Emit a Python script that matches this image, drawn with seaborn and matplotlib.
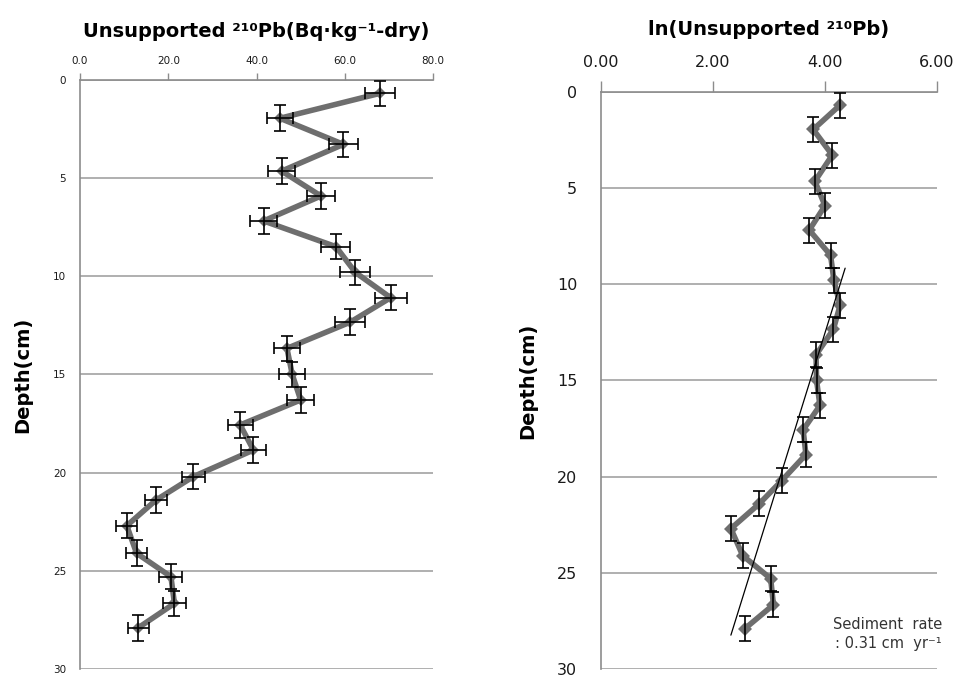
import numpy as np
import pandas as pd
import matplotlib
matplotlib.use("Agg")
import matplotlib.pyplot as plt
import seaborn as sns

# ---------------- data ----------------
depth = [0.68, 1.95, 3.28, 4.64, 5.91, 7.18, 8.49, 9.80, 11.09, 12.34, 13.67,
         15.00, 16.30, 17.57, 18.85, 20.20, 21.40, 22.70, 24.10, 25.30, 26.66, 27.90]
pb_unsupported = [68.0, 45.3, 59.7, 45.7, 54.6, 41.6, 58.0, 62.4, 70.4, 61.2, 46.9,
                  48.1, 50.0, 36.3, 39.3, 25.7, 17.2, 10.6, 12.8, 20.6, 21.4, 13.2]
pb_error = [3.5, 3.0, 3.3, 3.0, 3.2, 3.0, 3.3, 3.4, 3.6, 3.3, 3.0,
            3.0, 3.1, 2.8, 2.9, 2.6, 2.5, 2.4, 2.4, 2.6, 2.6, 2.4]
ln_pb = [4.27, 3.79, 4.13, 3.82, 4.00, 3.72, 4.10, 4.16, 4.27, 4.15, 3.84,
         3.85, 3.91, 3.61, 3.66, 3.23, 2.83, 2.32, 2.53, 3.03, 3.08, 2.57]
depth_halfwidth = 0.65
trend_ln = [4.36, 2.32]
trend_depth = [9.16, 28.24]

x_ticks_left = [0, 20, 40, 60, 80]
x_ticklabels_left = ["0.0", "20.0", "40.0", "60.0", "80.0"]
x_ticks_right = [0, 2, 4, 6]
x_ticklabels_right = ["0.00", "2.00", "4.00", "6.00"]
y_ticks = [0, 5, 10, 15, 20, 25, 30]

df = pd.DataFrame({"depth": depth, "pb": pb_unsupported, "ln": ln_pb})

# ---------------- style ----------------
sns.set_style("white")
plt.rcParams["font.family"] = ["DejaVu Sans"]

line_c = "#6e6e6e"
grid_c = "#9a9a9a"
spine_c = "#8c8c8c"
text_c = "#1a1a1a"

fig = plt.figure(figsize=(9.62, 6.79), dpi=100)
axL = fig.add_axes([0.0832, 0.01473, 0.3669, 0.8675])
axR = fig.add_axes([0.6247, 0.01473, 0.3493, 0.8498])


def style_axis(ax, xticks, xlabels, xmax, tick_fs, tick_len, xpad, ypad):
    ax.set_xlim(0, xmax)
    ax.set_ylim(30, 0)
    ax.xaxis.tick_top()
    ax.set_xticks(xticks)
    ax.set_xticklabels(xlabels)
    ax.set_yticks(y_ticks)
    ax.set_yticklabels([str(v) for v in y_ticks])
    ax.tick_params(axis="both", direction="out", length=tick_len, width=1,
                   color=spine_c, labelsize=tick_fs, labelcolor=text_c)
    ax.tick_params(axis="x", pad=xpad)
    ax.tick_params(axis="y", pad=ypad)
    for s in ["right", "bottom"]:
        ax.spines[s].set_visible(False)
    for s in ["left", "top"]:
        ax.spines[s].set_color(spine_c)
        ax.spines[s].set_linewidth(1.2)
    ax.yaxis.grid(True, color=grid_c, linewidth=1.1)
    ax.xaxis.grid(False)
    ax.set_xlabel("")
    ax.set_ylabel("Depth(cm)", fontsize=14, fontweight="bold", color="black")


# ---------------- left panel ----------------
sns.lineplot(data=df, x="pb", y="depth", sort=False, ax=axL, color=line_c,
             linewidth=4, marker="D", markersize=6, markeredgewidth=0,
             estimator=None, zorder=2)
axL.errorbar(pb_unsupported, depth, xerr=pb_error, yerr=depth_halfwidth,
             fmt="none", ecolor="black", elinewidth=1.2, capsize=4,
             capthick=1.2, zorder=3)
style_axis(axL, x_ticks_left, x_ticklabels_left, 80, 7.5, 5, 5.4, 5)
axL.yaxis.labelpad = 15
axL.set_title("Unsupported ²¹⁰Pb(Bq·kg⁻¹-dry)", fontsize=14,
              fontweight="bold", pad=31, color="black")

# ---------------- right panel ----------------
sns.lineplot(data=df, x="ln", y="depth", sort=False, ax=axR, color=line_c,
             linewidth=4, marker="D", markersize=7, markeredgewidth=0,
             estimator=None, zorder=2)
axR.errorbar(ln_pb, depth, yerr=depth_halfwidth, fmt="none", ecolor="black",
             elinewidth=1.2, capsize=4, capthick=1.2, zorder=3)
sns.lineplot(x=trend_ln, y=trend_depth, sort=False, ax=axR, color="black",
             linewidth=0.9, estimator=None, zorder=4)
style_axis(axR, x_ticks_right, x_ticklabels_right, 6, 11.5, 8, 7.5, 9)
axR.yaxis.labelpad = 14
axR.set_title("ln(Unsupported ²¹⁰Pb)", fontsize=14, fontweight="bold",
              pad=41, color="black")
axR.text(1.015, 0.061, "Sediment  rate\n: 0.31 cm  yr⁻¹",
         transform=axR.transAxes, ha="right", va="center", fontsize=10.5,
         color="#333333", linespacing=1.35)

fig.savefig("out.png", dpi=100)
